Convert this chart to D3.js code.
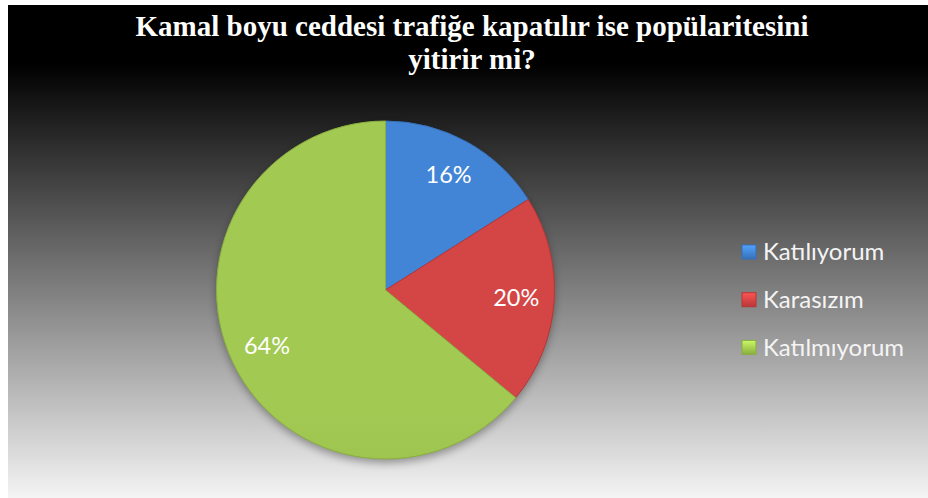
<!DOCTYPE html>
<html>
<head>
<meta charset="utf-8">
<title>Kamal boyu ceddesi</title>
<style>
  body { margin: 0; background: #fff; }
  .slice-label { font-family: 'Lato', 'Open Sans', sans-serif; font-size: 23.5px; fill: #fff; }
  .legend text { font-family: 'Lato', 'Open Sans', sans-serif; font-size: 24px; fill: #f4f4f4; }
  .title { font-family: 'Liberation Serif', 'Times New Roman', serif; font-weight: bold; font-size: 29px; fill: #fff; }
</style>
</head>
<body>
<script src="https://d3js.org/d3.v7.min.js"></script>
<div id="chart"></div>
<script>
  // data
  var categories = ["Katılıyorum", "Karasızım", "Katılmıyorum"];
  var values = [16, 20, 64];
  var colors = ["#4284d6", "#d44545", "#a2c952"];
  var darker = ["#3670b8", "#b83636", "#8aae40"];
  var titleLines = ["Kamal boyu ceddesi trafiğe kapatılır ise popülaritesini", "yitirir mi?"];

  var W = 928, H = 498;
  var box = {x: 8, y: 5, w: 920, h: 493};
  var cx = 385.5, cy = 290, r = 169;

  var svg = d3.select("#chart").append("svg")
    .attr("width", W).attr("height", H);

  var defs = svg.append("defs");

  // background gradient
  var bg = defs.append("linearGradient").attr("id", "bg")
    .attr("x1", 0).attr("y1", 0).attr("x2", 0).attr("y2", 1);
  bg.append("stop").attr("offset", "0%").attr("stop-color", "#000");
  bg.append("stop").attr("offset", "12%").attr("stop-color", "#000");
  bg.append("stop").attr("offset", "100%").attr("stop-color", "#f4f4f4");

  svg.append("rect")
    .attr("x", box.x).attr("y", box.y)
    .attr("width", box.w).attr("height", box.h)
    .attr("fill", "url(#bg)");

  // slice gradients
  colors.forEach(function(c, i) {
    var g = defs.append("linearGradient").attr("id", "sl" + i)
      .attr("gradientUnits", "userSpaceOnUse")
      .attr("x1", 0).attr("y1", cy - r).attr("x2", 0).attr("y2", cy + r);
    g.append("stop").attr("offset", "0%").attr("stop-color", c);
    g.append("stop").attr("offset", "100%").attr("stop-color", darker[i]);

    var lg = defs.append("linearGradient").attr("id", "lg" + i)
      .attr("x1", 0).attr("y1", 0).attr("x2", 0).attr("y2", 1);
    lg.append("stop").attr("offset", "0%").attr("stop-color", d3.color(c).brighter(0.6));
    lg.append("stop").attr("offset", "100%").attr("stop-color", darker[i]);
  });

  var blur = defs.append("filter").attr("id", "shadow")
    .attr("x", "-20%").attr("y", "-20%").attr("width", "140%").attr("height", "140%");
  blur.append("feGaussianBlur").attr("stdDeviation", 4);

  // title
  svg.selectAll(".title")
    .data(titleLines)
    .enter()
    .append("text")
      .attr("class", "title")
      .attr("x", 472)
      .attr("y", function(d, i) { return 36 + i * 33; })
      .attr("text-anchor", "middle")
      .text(function(d) { return d; });

  var pie = d3.pie().sort(null).value(function(d) { return d; });
  var arcs = pie(values);
  var arc = d3.arc().innerRadius(0).outerRadius(r);
  var labelArc = d3.arc().innerRadius(131).outerRadius(131);

  var g = svg.append("g").attr("transform", "translate(" + cx + "," + cy + ")");

  // soft shadow below the pie
  g.append("circle")
    .attr("cx", 0).attr("cy", 4).attr("r", r)
    .attr("fill", "#000").attr("opacity", 0.35)
    .attr("filter", "url(#shadow)");

  arcs.forEach(function(d, i) {
    defs.append("clipPath").attr("id", "clip" + i)
      .append("path")
      .attr("transform", "translate(" + cx + "," + cy + ")")
      .attr("d", arc(d));
  });

  var slices = g.selectAll(".slice")
    .data(arcs)
    .enter()
    .append("g")
    .attr("class", "slice");

  slices.append("path")
    .attr("d", arc)
    .attr("fill", function(d, i) { return "url(#sl" + i + ")"; })
    .attr("stroke", function(d, i) { return darker[i]; })
    .attr("stroke-width", 1);

  // bevel highlight along slice edges
  slices.append("path")
    .attr("d", arc)
    .attr("fill", "none")
    .attr("stroke", "#fff")
    .attr("stroke-opacity", 0.15)
    .attr("stroke-width", 8)
    .attr("clip-path", function(d, i) { return "url(#clip" + i + ")"; })
    .attr("transform", "translate(" + (-cx) + "," + (-cy) + ") translate(" + cx + "," + cy + ")");

  slices.append("text")
    .attr("class", "slice-label")
    .attr("transform", function(d) { return "translate(" + labelArc.centroid(d) + ")"; })
    .attr("text-anchor", "middle")
    .attr("dy", "0.35em")
    .text(function(d) { return d.data + "%"; });

  // legend
  var legend = svg.append("g").attr("class", "legend")
    .selectAll("g")
    .data(categories)
    .enter()
    .append("g")
    .attr("transform", function(d, i) { return "translate(742," + (252 + i * 47.7) + ")"; });

  legend.append("rect")
    .attr("x", 0).attr("y", -7)
    .attr("width", 14).attr("height", 14)
    .attr("fill", function(d, i) { return "url(#lg" + i + ")"; })
    .attr("stroke", function(d, i) { return darker[i]; })
    .attr("stroke-width", 1);

  legend.append("text")
    .attr("x", 21)
    .attr("dy", "0.35em")
    .text(function(d) { return d; });
</script>
</body>
</html>
